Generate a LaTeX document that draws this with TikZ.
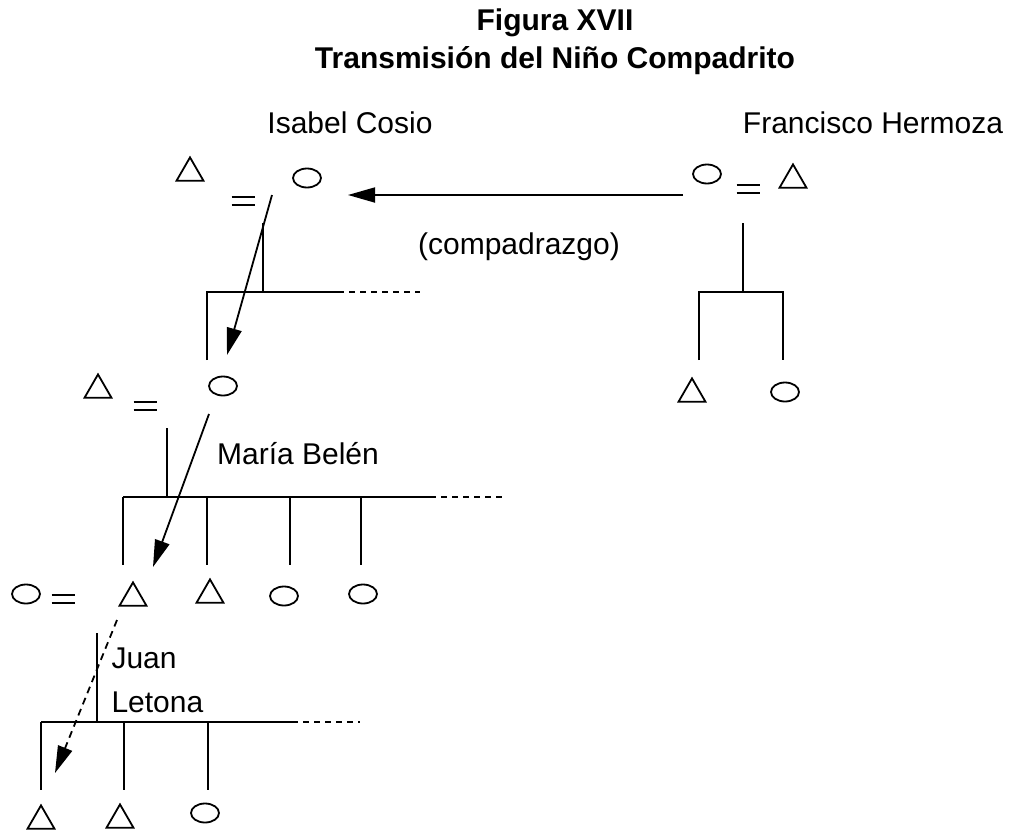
\documentclass[tikz,border=0pt]{standalone}
\usepackage{fontspec}
\setmainfont{Liberation Sans}
\usetikzlibrary{positioning, arrows.meta, shapes.geometric}

\begin{document}
\begin{tikzpicture}[
    % GLOBAL CFG
    x=1pt, y=-1pt,
    font=\fontsize{30}{36}\selectfont,
    >={Triangle[length=27pt, width=15pt]},
    % Styles
    male/.style={% For men (triangles)
        regular polygon,
        regular polygon sides=3,
        draw,
        line width=1.8pt,
        minimum size=31pt,
        inner sep=0pt,
        yshift=-3.9pt,
    },
    female/.style={% For women (circles)
        ellipse,
        draw,
        line width=1.8pt,
        minimum width=28pt,
        minimum height=19pt,
        inner sep=0pt,
    },
    wed/.style={% For the marriage sign (two bars)
        minimum width=24pt,
        minimum height=12pt,
        inner sep=0pt,
        path picture={
            \draw[line width=1.5pt]
                ([xshift=-11.5pt, yshift=4pt]path picture bounding box.center) -- ++(23pt,0pt)
                ([xshift=-11.5pt, yshift=-4pt]path picture bounding box.center) -- ++(23pt,0pt);
        },
    },
    title/.style={
        anchor=base,
        font=\fontsize{30}{36}\selectfont\bfseries,
    },
    mylabel/.style={
        anchor=base,
    },
    kin/.style={% Descent and sibling lines
        line width=1.8pt,
    },
    open/.style={% Siblings left out
        line width=1.8pt,
        dash pattern=on 6pt off 5pt,
    },
    pass/.style={% Transmission arrows
        ->,
        line width=1.8pt,
    },
    ]

    \useasboundingbox (0,0) rectangle (1015,830);

    % Title
    \node[title] (fig) at (555,30) {Figura XVII};
    \node[title] (ttl) at (555,68) {Transmisión del Niño Compadrito};

    % Draw couples and children named t# (men), c# (women), e# (marriages)
    \node[male]   (t1) at (190,169) {};
    \node[wed]    (e1) at (243,201) {};
    \node[female] (c1) at (307,178) {};

    \node[female] (c7) at (707,174) {};
    \node[wed]    (e4) at (748,189) {};
    \node[male]   (t7) at (793,176) {};
    \node[male]   (t8) at (692,390) {};
    \node[female] (c8) at (785,392) {};

    \node[male]   (t2) at (98,386) {};
    \node[wed]    (e2) at (145,406) {};
    \node[female] (c2) at (223,386) {};

    \node[female] (c3) at (26,594) {};
    \node[wed]    (e3) at (63,599) {};
    \node[male]   (t3) at (133,594) {};
    \node[male]   (t4) at (210,591) {};
    \node[female] (c4) at (284,596) {};
    \node[female] (c5) at (363,594) {};

    \node[male]   (t5) at (41,817) {};
    \node[male]   (t6) at (120,816) {};
    \node[female] (c6) at (205,813) {};

    % Names
    \node[mylabel] (isabel) at (350,133) {Isabel Cosio};
    \node[mylabel] (francisco) at (873,133) {Francisco Hermoza};
    \node[mylabel] (compa) at (519,254) {(compadrazgo)};
    \node[mylabel] (maria) at (298,464) {María Belén};
    \node[mylabel, anchor=base west] (juan) at (108,668) {Juan};
    \node[mylabel, anchor=base west] (letona) at (108,712) {Letona};

    % Points of the kin lines: d# descent, b# bar, s# end of solid bar,
    % o# end of open bar, f# foot of drops
    \coordinate (d1) at (263,223);
    \coordinate (b1) at (207,292);
    \coordinate (s1) at (338,292);
    \coordinate (o1) at (420,292);
    \coordinate (f1) at (207,360);

    \coordinate (d4) at (743,223);
    \coordinate (b4) at (699,292);
    \coordinate (s4) at (783,292);
    \coordinate (f4) at (699,360);

    \coordinate (d2) at (167,428);
    \coordinate (b2) at (123,497);
    \coordinate (s2) at (430,497);
    \coordinate (o2) at (503,497);
    \coordinate (f2) at (123,565);

    \coordinate (d3) at (97,633);
    \coordinate (b3) at (41,722);
    \coordinate (s3) at (292,722);
    \coordinate (o3) at (360,722);
    \coordinate (f3) at (41,790);

    % Connect all
    \draw [kin] (d1) -- (d1 |- b1);
    \draw [kin] (f1) |- (s1);
    \draw [open] (s1) -- (o1);

    \draw [kin] (d4) -- (d4 |- b4);
    \draw [kin] (f4) |- (s4) -- (s4 |- f4);

    \draw [kin] (d2) -- (d2 |- b2);
    \draw [kin] (b2) -- (s2);
    \draw [open] (s2) -- (o2);
    \foreach \x in {123,207,290,361}
        \draw [kin] (\x,0 |- b2) -- (\x,0 |- f2);

    \draw [kin] (d3) -- (d3 |- b3);
    \draw [kin] (b3) -- (s3);
    \draw [open] (s3) -- (o3);
    \foreach \x in {41,124,208}
        \draw [kin] (\x,0 |- b3) -- (\x,0 |- f3);

    % Transmission of the child
    \coordinate (h0) at (683,195);
    \coordinate (h1) at (348,195);
    \coordinate (a1) at (272,195);
    \coordinate (a2) at (227,355);
    \coordinate (a3) at (209,414);
    \coordinate (a4) at (153,567);
    \coordinate (a5) at (117,620);
    \coordinate (a6) at (55,773);

    \draw [pass] (h0) -- (h1);
    \draw [pass] (a1) -- (a2);
    \draw [pass] (a3) -- (a4);
    \draw [pass, dash pattern=on 7pt off 5pt] (a5) -- (a6);

\end{tikzpicture}
\end{document}
